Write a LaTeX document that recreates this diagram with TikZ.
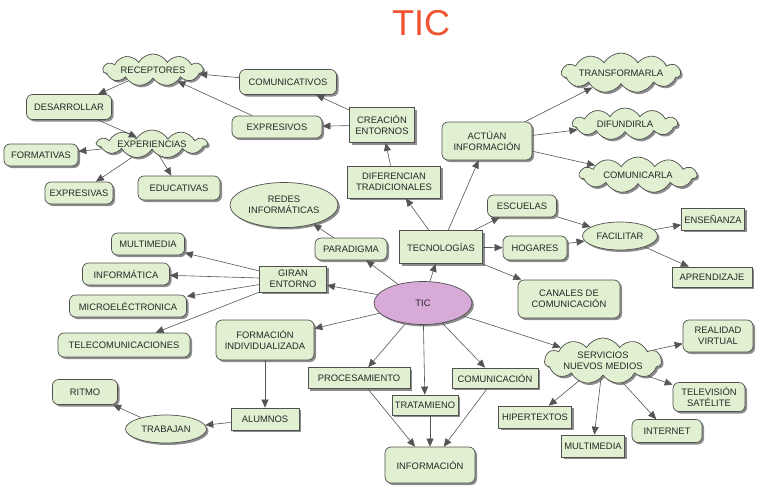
\documentclass[tikz,border=0pt]{standalone}
\usepackage{fontspec}
\setmainfont{Liberation Sans}
\usetikzlibrary{shapes.geometric,shapes.symbols,shadows,arrows.meta}
\definecolor{nfill}{RGB}{224,240,208}
\definecolor{nline}{RGB}{80,80,80}
\definecolor{ticfill}{RGB}{216,170,216}
\definecolor{titlecol}{RGB}{240,84,50}
\definecolor{edgecol}{RGB}{85,85,85}
\definecolor{txtcol}{RGB}{40,40,40}
\begin{document}
\begin{tikzpicture}[x=1pt,y=1pt,
 base/.style={draw=nline, line width=0.7pt, fill=nfill, text=txtcol, font=\fontsize{9.4}{11.5}\selectfont, align=center, inner sep=1pt,
   drop shadow={shadow xshift=2pt,shadow yshift=-2pt,fill=black,opacity=0.45}},
 sbox/.style={base, rectangle},
 rbox/.style={base, rectangle, rounded corners=6pt},
 ebox/.style={base, ellipse},
 cbox/.style={base, cloud, cloud puffs=11, cloud puff arc=120, cloud ignores aspect},
 arr/.style={draw=edgecol, line width=0.6pt, -{Triangle[length=8pt,width=7pt]}},
]
\useasboundingbox[fill=white] (0,0) rectangle (760,-491);
\node[font=\fontsize{36}{36}\selectfont, text=titlecol] (title) at (421,-23) {TIC};

\node[cbox, minimum width=100, minimum height=32] (rec) at (153,-70) {RECEPTORES};
\node[rbox, minimum width=85, minimum height=25] (des) at (69,-107) {DESARROLLAR};
\node[cbox, minimum width=110, minimum height=28] (exp) at (152,-144) {EXPERIENCIAS};
\node[rbox, minimum width=74, minimum height=22] (for) at (41,-155) {FORMATIVAS};
\node[rbox, minimum width=68, minimum height=22] (exs) at (79,-193) {EXPRESIVAS};
\node[rbox, minimum width=82, minimum height=24] (edu) at (179,-188) {EDUCATIVAS};
\node[rbox, minimum width=97, minimum height=25] (com) at (288,-82) {COMUNICATIVOS};
\node[rbox, minimum width=90, minimum height=22] (exv) at (277,-127) {EXPRESIVOS};
\node[sbox, minimum width=65, minimum height=35] (cre) at (382,-125) {CREACIÓN\\ENTORNOS};
\node[sbox, minimum width=93, minimum height=32] (dif) at (394,-182) {DIFERENCIAN\\TRADICIONALES};
\node[rbox, minimum width=90, minimum height=38] (act) at (487,-141) {ACTÚAN\\INFORMACIÓN};
\node[cbox, minimum width=118, minimum height=40] (tra) at (621,-73) {TRANSFORMARLA};
\node[cbox, minimum width=105, minimum height=32] (dfu) at (625,-124) {DIFUNDIRLA};
\node[cbox, minimum width=117, minimum height=36] (cml) at (638,-175) {COMUNICARLA};
\node[ebox, minimum width=108, minimum height=45] (red) at (284,-205) {REDES\\INFORMÁTICAS};
\node[rbox, minimum width=72, minimum height=22] (par) at (351,-249) {PARADIGMA};
\node[sbox, minimum width=83, minimum height=33] (tec) at (441,-247) {TECNOLOGÍAS};
\node[ebox, fill=ticfill, minimum width=98, minimum height=43] (tic) at (423,-303) {TIC};
\node[sbox, minimum width=67, minimum height=26] (gir) at (293,-279) {GIRAN\\ENTORNO};
\node[rbox, minimum width=73, minimum height=22] (mul) at (148,-244) {MULTIMEDIA};
\node[rbox, minimum width=87, minimum height=22] (inf) at (126,-274) {INFORMÁTICA};
\node[rbox, minimum width=117, minimum height=22] (mic) at (128,-306) {MICROELÉCTRONICA};
\node[rbox, minimum width=132, minimum height=24] (tel) at (124,-345) {TELECOMUNICACIONES};
\node[rbox, minimum width=98, minimum height=40] (fid) at (265,-340) {FORMACIÓN\\INDIVIDUALIZADA};
\node[rbox, minimum width=69, minimum height=22] (esc) at (522,-206) {ESCUELAS};
\node[rbox, minimum width=64, minimum height=24] (hog) at (535,-248) {HOGARES};
\node[ebox, minimum width=75, minimum height=28] (fac) at (620,-236) {FACILITAR};
\node[sbox, minimum width=63, minimum height=22] (ens) at (713,-219) {ENSEÑANZA};
\node[sbox, minimum width=80, minimum height=20] (apr) at (712,-277) {APRENDIZAJE};
\node[rbox, minimum width=102, minimum height=38] (can) at (569,-299) {CANALES DE\\COMUNICACIÓN};
\node[sbox, minimum width=86, minimum height=20] (cmc) at (495,-378) {COMUNICACIÓN};
\node[sbox, minimum width=102, minimum height=21] (pro) at (359,-378) {PROCESAMIENTO};
\node[sbox, minimum width=66, minimum height=20] (trt) at (425,-405) {TRATAMIENO};
\node[rbox, minimum width=90, minimum height=36] (ifo) at (430,-465) {INFORMACIÓN};
\node[cbox, minimum width=117, minimum height=42] (ser) at (603,-361) {SERVICIOS\\NUEVOS MEDIOS};
\node[rbox, minimum width=70, minimum height=32] (rea) at (718,-336) {REALIDAD\\VIRTUAL};
\node[rbox, minimum width=72, minimum height=29] (tvs) at (709,-397) {TELEVISIÓN\\SATÉLITE};
\node[sbox, minimum width=73, minimum height=22] (hip) at (535,-417) {HIPERTEXTOS};
\node[sbox, minimum width=63, minimum height=22] (mu2) at (593,-446) {MULTIMEDIA};
\node[rbox, minimum width=70, minimum height=23] (int) at (667,-431) {INTERNET};
\node[sbox, minimum width=68, minimum height=22] (alu) at (265,-419) {ALUMNOS};
\node[ebox, minimum width=81, minimum height=28] (trb) at (166,-429) {TRABAJAN};
\node[rbox, minimum width=65, minimum height=25] (rit) at (85,-392) {RITMO};

\draw[arr] (com) -- (rec);
\draw[arr] (exv) -- (rec);
\draw[arr] (rec) -- (des);
\draw[arr] (des) -- (exp);
\draw[arr] (exp) -- (for);
\draw[arr] (exp) -- (exs);
\draw[arr] (exp) -- (edu);
\draw[arr] (cre) -- (com);
\draw[arr] (cre) -- (exv);
\draw[arr] (dif) -- (cre);
\draw[arr] (tec) -- (dif);
\draw[arr] (tec) -- (act);
\draw[arr] (act) -- (tra);
\draw[arr] (act) -- (dfu);
\draw[arr] (act) -- (cml);
\draw[arr] (tic) -- (tec);
\draw[arr] (tic) -- (par);
\draw[arr] (par) -- (red);
\draw[arr] (tic) -- (gir);
\draw[arr] (gir) -- (mul);
\draw[arr] (gir) -- (inf);
\draw[arr] (gir) -- (mic);
\draw[arr] (gir) -- (tel);
\draw[arr] (tic) -- (fid);
\draw[arr] (fid) -- (alu);
\draw[arr] (alu) -- (trb);
\draw[arr] (trb) -- (rit);
\draw[arr] (tec) -- (esc);
\draw[arr] (tec) -- (hog);
\draw[arr] (tec) -- (can);
\draw[arr] (esc) -- (fac);
\draw[arr] (hog) -- (fac);
\draw[arr] (fac) -- (ens);
\draw[arr] (fac) -- (apr);
\draw[arr] (tic) -- (pro);
\draw[arr] (tic) -- (trt);
\draw[arr] (tic) -- (cmc);
\draw[arr] (pro) -- (ifo);
\draw[arr] (trt.south -| ifo) -- (ifo);
\draw[arr] (cmc) -- (ifo);
\draw[arr] (tic) -- (ser);
\draw[arr] (ser) -- (rea);
\draw[arr] (ser) -- (tvs);
\draw[arr] (ser) -- (hip);
\draw[arr] (ser) -- (mu2);
\draw[arr] (ser) -- (int);
\end{tikzpicture}
\end{document}
